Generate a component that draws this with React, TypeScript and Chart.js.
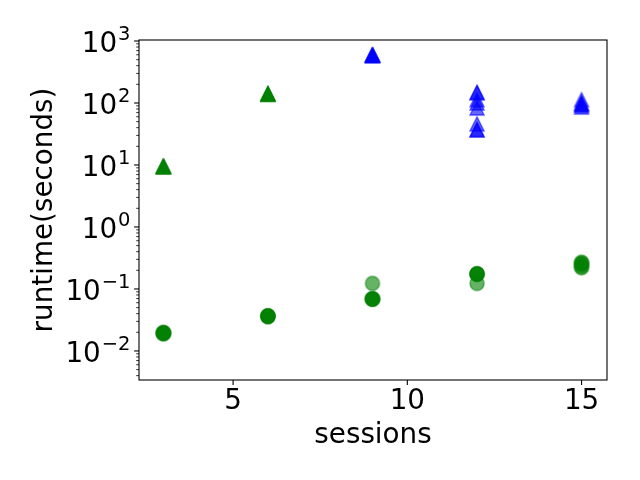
import React, { useEffect, useRef } from "react";
import { Chart, registerables } from "chart.js";

Chart.register(...registerables);

// ---- data ----
const greenTriangleSessions = [3, 3, 3, 3, 3, 6, 6, 6, 6, 6];
const greenTriangleRuntime = [9.3, 9.5, 9.6, 9.4, 9.5, 138, 140, 142, 139, 141];

const blueTriangleSessions = [9, 9, 9, 9, 9, 12, 12, 12, 12, 12, 12, 12, 12, 15, 15, 15, 15, 15];
const blueTriangleRuntime = [580, 590, 600, 585, 595, 150, 145, 113, 100, 83, 46, 37, 37, 113, 100, 94, 94, 86];

const greenCircleSessions = [3, 3, 3, 3, 3, 6, 6, 6, 6, 6, 9, 9, 9, 9, 9, 12, 12, 12, 12, 12, 15, 15, 15, 15, 15];
const greenCircleRuntime = [
  0.019, 0.0195, 0.02, 0.0195, 0.019,
  0.036, 0.0365, 0.037, 0.036, 0.0365,
  0.123, 0.069, 0.069, 0.07, 0.068,
  0.174, 0.172, 0.176, 0.123, 0.175,
  0.27, 0.25, 0.23, 0.22, 0.26,
];

const xTicks = [5, 10, 15];
const yExponents = [-2, -1, 0, 1, 2, 3];
const xLabel = "sessions";
const yLabel = "runtime(seconds)";

const FONT = '"DejaVu Sans", sans-serif';

function pairs(xs: number[], ys: number[]) {
  return xs.map((x, i) => ({ x, y: ys[i] }));
}

function makeMarker(shape: "triangle" | "circle", color: string) {
  const c = document.createElement("canvas");
  c.width = 20;
  c.height = 20;
  const g = c.getContext("2d")!;
  g.fillStyle = color;
  g.strokeStyle = color;
  g.lineWidth = 1.4;
  g.beginPath();
  if (shape === "triangle") {
    g.moveTo(10, 3);
    g.lineTo(3, 17);
    g.lineTo(17, 17);
    g.closePath();
  } else {
    g.arc(10, 10, 7, 0, Math.PI * 2);
  }
  g.fill();
  g.stroke();
  return c;
}

const supMap: Record<string, string> = { "-": "\u2212" };

const mplAxes = {
  id: "mplAxes",
  afterDraw(chart: any) {
    const { ctx, chartArea: a, scales } = chart;
    const xs = scales.x;
    const ys = scales.y;
    ctx.save();
    ctx.strokeStyle = "#000";
    ctx.fillStyle = "#000";
    // x ticks
    ctx.lineWidth = 1.1;
    for (const v of xTicks) {
      const px = xs.getPixelForValue(v);
      ctx.beginPath();
      ctx.moveTo(px, a.bottom);
      ctx.lineTo(px, a.bottom + 4.9);
      ctx.stroke();
    }
    // y ticks
    const lo = Math.floor(Math.log10(ys.min));
    const hi = Math.ceil(Math.log10(ys.max));
    for (let e = lo; e <= hi; e++) {
      for (let m = 1; m <= 9; m++) {
        const v = m * Math.pow(10, e);
        if (v < ys.min || v > ys.max) continue;
        const py = ys.getPixelForValue(v);
        const len = m === 1 ? 4.9 : 2.8;
        ctx.lineWidth = m === 1 ? 1.1 : 0.8;
        ctx.beginPath();
        ctx.moveTo(a.left - len, py);
        ctx.lineTo(a.left, py);
        ctx.stroke();
      }
    }
    // box
    ctx.lineWidth = 1.1;
    ctx.strokeRect(a.left, a.top, a.right - a.left, a.bottom - a.top);
    // y tick labels (10^n)
    ctx.textBaseline = "alphabetic";
    ctx.textAlign = "left";
    for (const e of yExponents) {
      const py = ys.getPixelForValue(Math.pow(10, e));
      const base = "10";
      const exp = String(e).split("").map((ch) => supMap[ch] || ch).join("");
      ctx.font = `27.8px ${FONT}`;
      const wb = ctx.measureText(base).width;
      ctx.font = `19.5px ${FONT}`;
      const we = ctx.measureText(exp).width;
      const right = a.left - 9.5;
      const x0 = right - wb - we;
      ctx.font = `27.8px ${FONT}`;
      ctx.fillText(base, x0, py + 10.6);
      ctx.font = `19.5px ${FONT}`;
      ctx.fillText(exp, x0 + wb + 1, py - 1);
    }
    ctx.restore();
  },
};

export default function App() {
  const ref = useRef<HTMLCanvasElement | null>(null);
  useEffect(() => {
    if (!ref.current) return;
    const greenTri = makeMarker("triangle", "rgba(0,128,0,0.6)");
    const blueTri = makeMarker("triangle", "rgba(0,0,255,0.6)");
    const greenCirc = makeMarker("circle", "rgba(0,128,0,0.6)");
    const chart = new Chart(ref.current, {
      type: "scatter",
      data: {
        datasets: [
          {
            label: "green triangles",
            data: pairs(greenTriangleSessions, greenTriangleRuntime),
            pointStyle: greenTri as any,
            pointRadius: 7,
          },
          {
            label: "blue triangles",
            data: pairs(blueTriangleSessions, blueTriangleRuntime),
            pointStyle: blueTri as any,
            pointRadius: 7,
          },
          {
            label: "green circles",
            data: pairs(greenCircleSessions, greenCircleRuntime),
            pointStyle: greenCirc as any,
            pointRadius: 7,
          },
        ],
      },
      options: {
        responsive: false,
        animation: false,
        events: [],
        layout: { padding: { left: 0, top: 40, right: 33, bottom: 0 } },
        plugins: { legend: { display: false }, tooltip: { enabled: false } },
        scales: {
          x: {
            type: "linear",
            min: 2.3,
            max: 15.73,
            grid: { display: false, drawTicks: false },
            border: { display: false },
            afterBuildTicks: (s: any) => {
              s.ticks = xTicks.map((v) => ({ value: v }));
            },
            afterFit: (s: any) => {
              s.height = 100;
            },
            ticks: {
              color: "#000",
              font: { family: FONT, size: 27.8 },
              padding: 5,
              maxRotation: 0,
              callback: (v: any) => String(v),
            },
            title: {
              display: true,
              text: xLabel,
              color: "#000",
              font: { family: FONT, size: 27.8 },
              padding: { top: 28, bottom: 28 },
            },
          },
          y: {
            type: "logarithmic",
            min: 0.0034,
            max: 1038,
            grid: { display: false, drawTicks: false },
            border: { display: false },
            afterFit: (s: any) => {
              s.width = 139;
            },
            ticks: { display: false },
            title: {
              display: true,
              text: yLabel,
              color: "#000",
              font: { family: FONT, size: 27.8 },
              padding: { top: 28, bottom: 28 },
            },
          },
        },
      },
      plugins: [mplAxes],
    });
    return () => chart.destroy();
  }, []);
  return (
    <canvas
      ref={ref}
      width={640}
      height={480}
      style={{ position: "absolute", left: 0, top: 0, width: 640, height: 480 }}
    />
  );
}
